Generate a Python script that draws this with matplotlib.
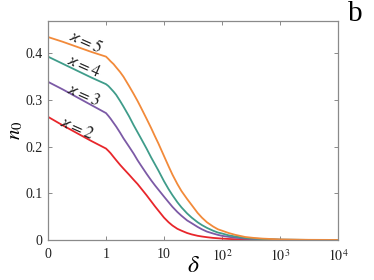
import matplotlib
matplotlib.use("Agg")
import matplotlib.pyplot as plt
from matplotlib.ticker import NullLocator, FixedLocator

plt.rcParams['font.family'] = ['Liberation Serif', 'DejaVu Serif']
plt.rcParams['mathtext.fontset'] = 'stix'

delta = [0, 0.25, 0.5, 0.75, 1.0, 1.1, 1.2, 1.35, 1.5, 1.75, 2, 2.5, 3, 3.5, 4,
         5, 6, 7, 8, 10, 12, 14, 17, 20, 25, 30, 38, 45, 55, 70, 85, 100, 130,
         170, 250, 350, 500, 1000, 3000, 10000]

n0_k5 = [0.435, 0.425, 0.414, 0.403, 0.393, 0.388, 0.383, 0.377, 0.370, 0.360,
         0.350, 0.330, 0.313, 0.298, 0.284, 0.260, 0.240, 0.222, 0.207, 0.180,
         0.158, 0.140, 0.120, 0.105, 0.088, 0.075, 0.058, 0.048, 0.038, 0.029,
         0.023, 0.020, 0.015, 0.011, 0.0065, 0.0045, 0.003, 0.0012, 0.0004,
         0.0001]
n0_k4 = [0.393, 0.378, 0.363, 0.348, 0.334, 0.330, 0.325, 0.318, 0.311, 0.298,
         0.286, 0.265, 0.246, 0.231, 0.218, 0.196, 0.177, 0.162, 0.149, 0.126,
         0.109, 0.096, 0.081, 0.070, 0.057, 0.048, 0.038, 0.032, 0.026, 0.020,
         0.016, 0.014, 0.010, 0.0075, 0.0045, 0.003, 0.002, 0.0008, 0.0002,
         0.0001]
n0_k3 = [0.339, 0.323, 0.306, 0.289, 0.272, 0.266, 0.260, 0.251, 0.243, 0.230,
         0.218, 0.200, 0.185, 0.171, 0.160, 0.142, 0.128, 0.117, 0.108, 0.093,
         0.081, 0.071, 0.060, 0.052, 0.042, 0.036, 0.028, 0.023, 0.018, 0.014,
         0.011, 0.009, 0.0068, 0.005, 0.003, 0.002, 0.0013, 0.0005, 0.0001,
         0.0]
n0_k2 = [0.264, 0.246, 0.229, 0.212, 0.196, 0.191, 0.186, 0.178, 0.171, 0.161,
         0.153, 0.140, 0.129, 0.120, 0.111, 0.096, 0.083, 0.072, 0.063, 0.048,
         0.038, 0.031, 0.024, 0.020, 0.015, 0.012, 0.009, 0.0075, 0.006, 0.0045,
         0.0037, 0.003, 0.0022, 0.0016, 0.001, 0.0007, 0.0005, 0.0002, 0.0001,
         0.0]

series = [n0_k2, n0_k3, n0_k4, n0_k5]
kappas = ['2', '3', '4', '5']
colors = ['#e8262b', '#7c5aa6', '#3f9c8a', '#f28a3a']

xticks = [0, 1, 10, 100, 1000, 10000]
xticklabels = ['0', '1', '10', '$10^2$', '$10^3$', '$10^4$']
yticks = [0, 0.1, 0.2, 0.3, 0.4]
yticklabels = ['0', '0.1', '0.2', '0.3', '0.4']

fig = plt.figure(figsize=(3.74, 2.80), dpi=100)
ax = fig.add_axes([48/374, 1-240/280, (338-48)/374, (240-20.7)/280])

for ys, c in zip(series, colors):
    ax.plot(delta, ys, color=c, lw=1.3, solid_joinstyle='round')

ax.set_xscale('symlog', linthresh=1, linscale=0.9)
ax.set_xlim(0, 10000)
ax.set_ylim(0, 0.47)
ax.xaxis.set_major_locator(FixedLocator(xticks))
ax.set_xticklabels(xticklabels)
ax.xaxis.set_minor_locator(NullLocator())
ax.set_yticks(yticks)
ax.set_yticklabels(yticklabels)

spine_c = '#8a8a8a'
for s in ax.spines.values():
    s.set_color(spine_c)
    s.set_linewidth(0.9)
ax.tick_params(direction='in', length=3, width=0.7, color=spine_c,
               top=True, right=True, labelsize=10, labelcolor='#222222')
ax.tick_params(axis='x', pad=6)
ax.tick_params(axis='y', pad=4)

ax.set_ylabel('$n_0$', fontsize=15)
ax.yaxis.set_label_coords(-0.08, 0.5)
ax.set_xlabel(r'$\delta$', fontsize=17)
ax.xaxis.set_label_coords(0.5, -0.075)

# curve labels (positions in data coords)
label_pos = [(0.5, 0.238), (0.6, 0.309), (0.62, 0.371), (0.64, 0.424)]
for (x, y), k in zip(label_pos, kappas):
    ax.text(x, y, r'$\varkappa = %s$' % k, fontsize=12, rotation=-24,
            ha='center', va='center', color='#222222')

fig.text(355/374, 1-14/280, 'b', fontsize=21, ha='center', va='center',
         color='black')

fig.savefig('out.png', dpi=100)
